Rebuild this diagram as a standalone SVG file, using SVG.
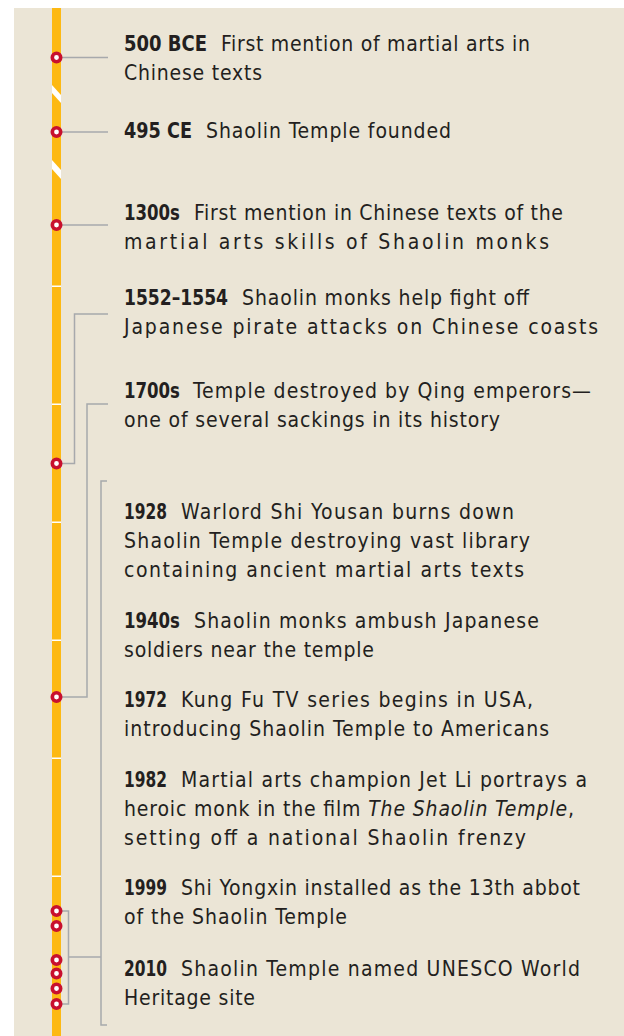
<svg xmlns="http://www.w3.org/2000/svg" width="624" height="1036" viewBox="0 0 624 1036">
<style>
  .t { font-family: "DejaVu Sans Condensed", "Liberation Sans", sans-serif; font-size: 21px; fill: #231f20; }
  .b { font-weight: bold; }
  .c { fill: none; stroke: #a7a9ac; stroke-width: 1.5; }
  .m { fill: #ffffff; stroke: #c8102e; stroke-width: 3.6; }
  .tick { fill: #ffffff; }
</style>
<rect x="14" y="8" width="610" height="1028" fill="#ebe5d6"/>
<g id="timeline-bar">
  <rect x="52" y="8" width="9" height="1028" fill="#fdb913"/>
  <polygon class="tick" points="52,85 61,95 61,103 52,93"/>
  <polygon class="tick" points="52,160 61,170 61,179 52,169"/>
  <rect class="tick" x="52" y="285.5" width="9" height="1.5"/>
  <rect class="tick" x="52" y="403.5" width="9" height="1.5"/>
  <rect class="tick" x="52" y="521.5" width="9" height="1.5"/>
  <rect class="tick" x="52" y="639.5" width="9" height="1.5"/>
  <rect class="tick" x="52" y="757.5" width="9" height="1.5"/>
  <rect class="tick" x="52" y="875.5" width="9" height="1.5"/>
</g>
<g id="connectors">
  <path class="c" d="M61,57.5 H108"/>
  <path class="c" d="M61,132 H108"/>
  <path class="c" d="M61,225 H108"/>
  <path class="c" d="M61,463.5 H74.5 V314 H108"/>
  <path class="c" d="M61,697 H87 V404 H108"/>
  <path class="c" d="M107,481 H101 V1025 H107"/>
  <path class="c" d="M61,911 H68.5 V1004 H61"/>
  <path class="c" d="M68.5,957 H101"/>
</g>
<g id="markers">
  <circle class="m" cx="56.5" cy="57.5" r="4.2"/>
  <circle class="m" cx="56.5" cy="132" r="4.2"/>
  <circle class="m" cx="56.5" cy="225" r="4.2"/>
  <circle class="m" cx="56.5" cy="463.5" r="4.2"/>
  <circle class="m" cx="56.5" cy="697" r="4.2"/>
  <circle class="m" cx="56.5" cy="911" r="4.2"/>
  <circle class="m" cx="56.5" cy="926" r="4.2"/>
  <circle class="m" cx="56.5" cy="960" r="4.2"/>
  <circle class="m" cx="56.5" cy="973.5" r="4.2"/>
  <circle class="m" cx="56.5" cy="988.5" r="4.2"/>
  <circle class="m" cx="56.5" cy="1004" r="4.2"/>
</g>
<g id="event-500bce">
  <text class="t b" x="124" y="51" textLength="83" lengthAdjust="spacingAndGlyphs">500 BCE</text>
  <text class="t" x="221" y="51" textLength="309" lengthAdjust="spacing">First mention of martial arts in</text>
  <text class="t" x="124" y="80" textLength="138" lengthAdjust="spacing">Chinese texts</text>
</g>
<g id="event-495ce">
  <text class="t b" x="124" y="138" textLength="68" lengthAdjust="spacingAndGlyphs">495 CE</text>
  <text class="t" x="206" y="138" textLength="245" lengthAdjust="spacing">Shaolin Temple founded</text>
</g>
<g id="event-1300s">
  <text class="t b" x="124" y="220" textLength="56" lengthAdjust="spacingAndGlyphs">1300s</text>
  <text class="t" x="194" y="220" textLength="369" lengthAdjust="spacing">First mention in Chinese texts of the</text>
  <text class="t" x="124" y="249" textLength="425" lengthAdjust="spacing">martial arts skills of Shaolin monks</text>
</g>
<g id="event-1552">
  <text class="t b" x="124" y="305" textLength="104" lengthAdjust="spacingAndGlyphs">1552–1554</text>
  <text class="t" x="242" y="305" textLength="287" lengthAdjust="spacing">Shaolin monks help fight off</text>
  <text class="t" x="124" y="334" textLength="474" lengthAdjust="spacing">Japanese pirate attacks on Chinese coasts</text>
</g>
<g id="event-1700s">
  <text class="t b" x="124" y="398" textLength="56" lengthAdjust="spacingAndGlyphs">1700s</text>
  <text class="t" x="193" y="398" textLength="398" lengthAdjust="spacing">Temple destroyed by Qing emperors—</text>
  <text class="t" x="124" y="427" textLength="376" lengthAdjust="spacing">one of several sackings in its history</text>
</g>
<g id="event-1928">
  <text class="t b" x="124" y="519" textLength="43" lengthAdjust="spacingAndGlyphs">1928</text>
  <text class="t" x="181" y="519" textLength="333" lengthAdjust="spacing">Warlord Shi Yousan burns down</text>
  <text class="t" x="124" y="548" textLength="406" lengthAdjust="spacing">Shaolin Temple destroying vast library</text>
  <text class="t" x="124" y="577" textLength="400" lengthAdjust="spacing">containing ancient martial arts texts</text>
</g>
<g id="event-1940s">
  <text class="t b" x="124" y="628" textLength="56" lengthAdjust="spacingAndGlyphs">1940s</text>
  <text class="t" x="194" y="628" textLength="345" lengthAdjust="spacing">Shaolin monks ambush Japanese</text>
  <text class="t" x="124" y="657" textLength="250" lengthAdjust="spacing">soldiers near the temple</text>
</g>
<g id="event-1972">
  <text class="t b" x="124" y="707" textLength="43" lengthAdjust="spacingAndGlyphs">1972</text>
  <text class="t" x="181" y="707" textLength="352" lengthAdjust="spacing">Kung Fu TV series begins in USA,</text>
  <text class="t" x="124" y="736" textLength="425" lengthAdjust="spacing">introducing Shaolin Temple to Americans</text>
</g>
<g id="event-1982">
  <text class="t b" x="124" y="787" textLength="43" lengthAdjust="spacingAndGlyphs">1982</text>
  <text class="t" x="181" y="787" textLength="406" lengthAdjust="spacing">Martial arts champion Jet Li portrays a</text>
  <text class="t" x="124" y="816" textLength="450" lengthAdjust="spacing">heroic monk in the film <tspan font-style="italic">The Shaolin Temple</tspan>,</text>
  <text class="t" x="124" y="845" textLength="402" lengthAdjust="spacing">setting off a national Shaolin frenzy</text>
</g>
<g id="event-1999">
  <text class="t b" x="124" y="895" textLength="43" lengthAdjust="spacingAndGlyphs">1999</text>
  <text class="t" x="181" y="895" textLength="399" lengthAdjust="spacing">Shi Yongxin installed as the 13th abbot</text>
  <text class="t" x="124" y="924" textLength="223" lengthAdjust="spacing">of the Shaolin Temple</text>
</g>
<g id="event-2010">
  <text class="t b" x="124" y="976" textLength="43" lengthAdjust="spacingAndGlyphs">2010</text>
  <text class="t" x="181" y="976" textLength="399" lengthAdjust="spacing">Shaolin Temple named UNESCO World</text>
  <text class="t" x="124" y="1005" textLength="131" lengthAdjust="spacing">Heritage site</text>
</g>
</svg>
